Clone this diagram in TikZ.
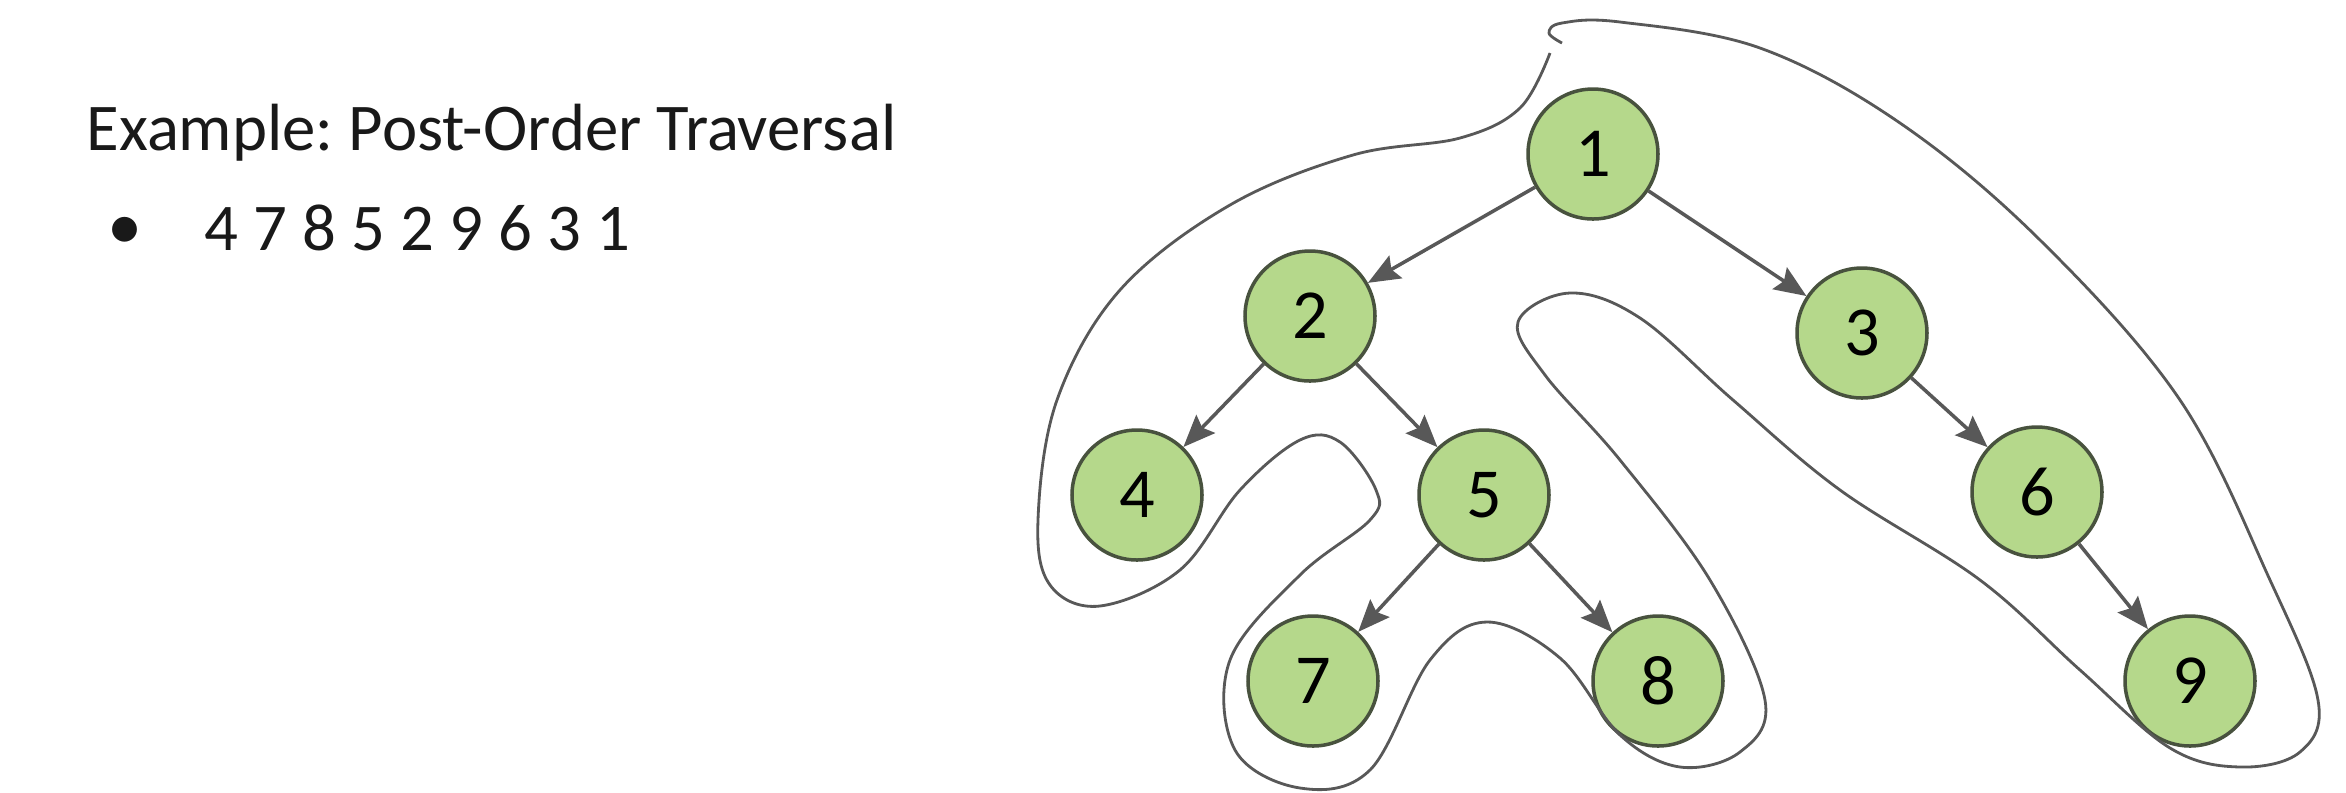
\documentclass[tikz,border=0pt]{standalone}
\usepackage{fontspec}
\setmainfont{Carlito}
\usepackage{tikz}
\usetikzlibrary{arrows.meta, positioning}
\definecolor{nodegreen}{RGB}{181,216,139}
\definecolor{nodeedge}{RGB}{72,82,62}
\definecolor{linegray}{RGB}{88,88,88}
\definecolor{textgray}{RGB}{25,25,25}
\frenchspacing

\begin{document}
\begin{tikzpicture}[x=0.1mm, y=-0.1mm,
    vertex/.style={circle, draw=nodeedge, line width=1pt, fill=nodegreen, minimum size=13mm, inner sep=0pt, font=\fontsize{20}{24}\selectfont},
    arrow/.style={draw=linegray, line width=1pt, -{Stealth[length=3.2mm, width=2.6mm, inset=0.5mm]}},
    tour/.style={draw=linegray, line width=0.8pt},
    textline/.style={anchor=base west, inner sep=0pt, text=textgray, font=\fontsize{19}{23}\selectfont}]
    \useasboundingbox (0,0) rectangle (2346,792);

    \node [textline] (title) at (86,150) {Example: Post-Order Traversal};
    \node [inner sep=0pt, text=textgray, font=\fontsize{20}{20}\selectfont] (bullet) at (125,233) {•};
    \node [textline] (order) at (204,250) {4 7 8 5 2 9 6 3 1};

    \node [vertex] (n1) at (1593,154) {1};
    \node [vertex] (n2) at (1310,316) {2};
    \node [vertex] (n3) at (1862,333) {3};
    \node [vertex] (n4) at (1137,495) {4};
    \node [vertex] (n5) at (1484,495) {5};
    \node [vertex] (n6) at (2037,492) {6};
    \node [vertex] (n7) at (1313,681) {7};
    \node [vertex] (n8) at (1658,681) {8};
    \node [vertex] (n9) at (2190,681) {9};

    \draw [arrow] (n1) -- (n2);
    \draw [arrow] (n1) -- (n3);
    \draw [arrow] (n2) -- (n4);
    \draw [arrow] (n2) -- (n5);
    \draw [arrow] (n3) -- (n6);
    \draw [arrow] (n5) -- (n7);
    \draw [arrow] (n5) -- (n8);
    \draw [arrow] (n6) -- (n9);

    % the walk around the tree
    \draw [tour] plot [smooth, tension=0.6] coordinates {
        (1562,43) (1549,33) (1562,23) (1620,22) (1760,48) (1900,123)
        (2040,240) (2180,400) (2270,580) (2318,700) (2300,752) (2240,767)
        (2170,748) (2080,670) (1980,580) (1840,490) (1733,400) (1640,318)
        (1570,293) (1518,322) (1545,375) (1620,460) (1710,580) (1765,700)
        (1740,752) (1680,767) (1620,735) (1560,658) (1487,622) (1430,660)
        (1370,770) (1300,788) (1235,750) (1230,660) (1300,575) (1370,520)
        (1376,490) (1340,442) (1300,440) (1240,490) (1180,570) (1100,606)
        (1050,585) (1038,520) (1057,400) (1120,290) (1230,205) (1353,155)
        (1460,138) (1520,108) (1550,53)};
\end{tikzpicture}
\end{document}
